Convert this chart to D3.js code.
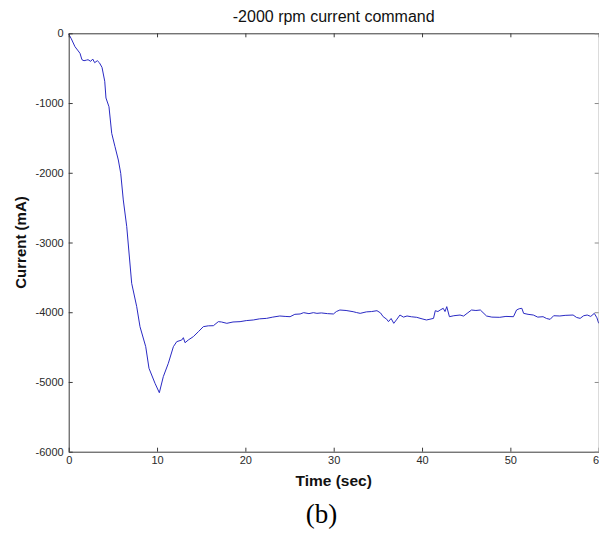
<!DOCTYPE html>
<html>
<head>
<meta charset="utf-8">
<script src="https://cdn.jsdelivr.net/npm/d3@7"></script>
<style>
  html, body { margin: 0; padding: 0; background: #fff; }
  svg { display: block; }
</style>
</head>
<body>
<svg id="chart" width="599" height="533"></svg>
<script>
const titleText = "-2000 rpm current command";
const xLabelText = "Time (sec)";
const yLabelText = "Current (mA)";
const captionText = "(b)";

const xTicks = [0, 10, 20, 30, 40, 50, 60];
const yTicks = [0, -1000, -2000, -3000, -4000, -5000, -6000];

const timeSec = [0, 0.3, 0.71, 1.0, 1.28, 1.5, 1.73, 2.0, 2.19, 2.49, 2.72, 2.94, 3.24, 3.47, 3.77, 4.08, 4.22, 4.56, 4.87, 5.24, 5.62, 5.89, 6.18, 6.57, 7.13, 7.7, 8.07, 8.72, 9.09, 9.77, 10.26, 10.71, 11.28, 11.85, 12.23, 12.8, 12.98, 13.17, 13.54, 14.11, 14.68, 15.24, 15.8, 16.38, 16.94, 17.3, 17.9, 18.6, 19.4, 20.1, 20.9, 21.6, 22.4, 23.1, 23.9, 24.5, 25.06, 25.6, 26.2, 26.6, 27.2, 27.7, 28.1, 28.6, 29.3, 29.97, 30.3, 30.7, 31.4, 32.2, 32.6, 33.0, 33.7, 34.3, 34.9, 35.3, 35.6, 36.0, 36.2, 36.5, 36.8, 37.1, 37.5, 37.9, 38.3, 38.8, 39.4, 40.0, 40.5, 40.9, 41.3, 41.5, 41.8, 42.05, 42.4, 42.6, 42.8, 43.1, 43.6, 44.3, 44.7, 45.1, 45.6, 46.1, 46.6, 47.3, 47.9, 48.8, 49.5, 50.35, 50.7, 51.0, 51.3, 51.5, 52.0, 52.6, 53.1, 53.7, 54.1, 54.5, 54.9, 55.6, 56.2, 57.1, 57.5, 57.9, 58.3, 58.7, 59.1, 59.5, 59.8, 60];

const currentMA = [-10, -80, -192, -240, -287, -379, -393, -385, -379, -402, -369, -421, -393, -421, -488, -688, -928, -1053, -1434, -1626, -1817, -2008, -2390, -2773, -3585, -3920, -4207, -4494, -4804, -5019, -5154, -4924, -4732, -4494, -4422, -4398, -4365, -4437, -4398, -4350, -4279, -4207, -4195, -4193, -4135, -4140, -4159, -4140, -4135, -4120, -4111, -4095, -4088, -4070, -4054, -4060, -4064, -4030, -4025, -4006, -4020, -4006, -4016, -4010, -4020, -4025, -3990, -3968, -3975, -3992, -4005, -4016, -3995, -3990, -3978, -4010, -4064, -4100, -4135, -4090, -4159, -4110, -4040, -4070, -4054, -4065, -4073, -4095, -4111, -4100, -4088, -3978, -3990, -3968, -3944, -3990, -3920, -4064, -4050, -4040, -4055, -4016, -3968, -3975, -3968, -4054, -4070, -4073, -4060, -4064, -3968, -3950, -3944, -4016, -4030, -4040, -4070, -4064, -4090, -4102, -4050, -4054, -4045, -4040, -4075, -4088, -4050, -4040, -4060, -4016, -4080, -4159];

const svg = d3.select("#chart");
const mLeft = 68.7, mRight = 598.7, mTop = 33.3, mBottom = 451.7;

const x = d3.scaleLinear().domain([0, 60]).range([mLeft, mRight]);
const y = d3.scaleLinear().domain([-6000, 0]).range([mBottom, mTop]);

const axisColor = "#3a3a3a";
const font = "Arial, 'Liberation Sans', Helvetica, sans-serif";
const plainFormat = d => String(d);

const data = timeSec.map((t, i) => [t, currentMA[i]]);
svg.append("path")
  .datum(data)
  .attr("fill", "none")
  .attr("stroke", "#2a2ac4")
  .attr("stroke-width", 1)
  .attr("stroke-linejoin", "round")
  .attr("d", d3.line().x(d => x(d[0])).y(d => y(d[1])));

const bottomAxis = d3.axisBottom(x).tickValues(xTicks).tickSizeInner(-4).tickSizeOuter(0).tickPadding(5).tickFormat(plainFormat);
const topAxis = d3.axisTop(x).tickValues(xTicks).tickSizeInner(-4).tickSizeOuter(0).tickFormat("");
const leftAxis = d3.axisLeft(y).tickValues(yTicks).tickSizeInner(-4).tickSizeOuter(0).tickPadding(5).tickFormat(plainFormat);
const rightAxis = d3.axisRight(y).tickValues(yTicks).tickSizeInner(-4).tickSizeOuter(0).tickFormat("");

function styleAxis(g, col) {
  g.select(".domain").attr("stroke", col || axisColor).attr("stroke-width", 1);
  g.selectAll(".tick line").attr("stroke", col || axisColor);
  g.selectAll(".tick text").attr("fill", "#2a2a2a").style("font-family", font).style("font-size", "11px");
}

svg.append("g").attr("transform", `translate(0,${mBottom})`).call(bottomAxis).call(g => styleAxis(g));
svg.append("g").attr("transform", `translate(0,${mTop})`).call(topAxis).call(g => styleAxis(g));
svg.append("g").attr("transform", `translate(${mLeft},0)`).call(leftAxis).call(g => styleAxis(g));
svg.append("g").attr("transform", `translate(${mRight},0)`).call(rightAxis).call(g => styleAxis(g, "#8a8a8a"));

svg.append("text")
  .attr("x", (mLeft + mRight) / 2)
  .attr("y", 22)
  .attr("text-anchor", "middle")
  .style("font-family", font)
  .style("font-size", "16px")
  .attr("fill", "#111")
  .text(titleText);

svg.append("text")
  .attr("x", (mLeft + mRight) / 2)
  .attr("y", 486)
  .attr("text-anchor", "middle")
  .style("font-family", font)
  .style("font-size", "15.5px")
  .style("font-weight", "bold")
  .attr("fill", "#111")
  .text(xLabelText);

svg.append("text")
  .attr("transform", `translate(26,${(mTop + mBottom) / 2}) rotate(-90)`)
  .attr("text-anchor", "middle")
  .style("font-family", font)
  .style("font-size", "15px")
  .style("font-weight", "bold")
  .attr("fill", "#111")
  .text(yLabelText);

svg.append("text")
  .attr("x", 321.5)
  .attr("y", 523)
  .attr("text-anchor", "middle")
  .style("font-family", "'Times New Roman', 'Liberation Serif', serif")
  .style("font-size", "27px")
  .attr("fill", "#000")
  .text(captionText);
</script>
</body>
</html>
